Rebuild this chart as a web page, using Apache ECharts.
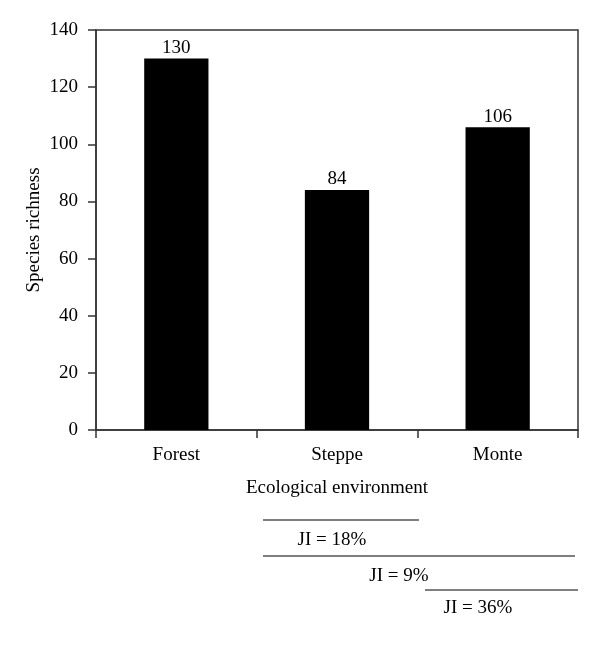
<!DOCTYPE html>
<html>
<head>
<meta charset="utf-8">
<script src="https://cdn.jsdelivr.net/npm/echarts@6/dist/echarts.min.js"></script>
<style>
  html, body { margin: 0; padding: 0; background: #fff; }
  #main { width: 600px; height: 654px; }
</style>
</head>
<body>
<div id="main"></div>
<script>
// data
const categories = ["Forest", "Steppe", "Monte"];
const richness = [130, 84, 106];
const jiLabels = ["JI = 18%", "JI = 9%", "JI = 36%"];

const FONT = "Liberation Serif";
const AXIS = "#333";
const FS = 19;

const myChart = echarts.init(document.getElementById("main"));

const option = {
  backgroundColor: "#fff",
  animation: false,
  textStyle: { fontFamily: FONT },
  grid: {
    left: 96,
    top: 30,
    right: 22,
    bottom: 224,
    show: true,
    borderColor: AXIS,
    borderWidth: 1.5,
  },
  xAxis: {
    type: "category",
    data: categories,
    name: "Ecological environment",
    nameLocation: "middle",
    nameGap: 49,
    nameTextStyle: { fontFamily: FONT, fontSize: FS, color: "#000" },
    axisLine: { lineStyle: { color: AXIS, width: 1.5 } },
    axisTick: { show: true, length: 8, lineStyle: { color: AXIS, width: 1.5 } },
    axisLabel: { fontFamily: FONT, fontSize: FS, color: "#000", margin: 16 },
  },
  yAxis: {
    type: "value",
    min: 0,
    max: 140,
    interval: 20,
    name: "Species richness",
    nameLocation: "middle",
    nameGap: 52,
    nameMoveOverlap: false,
    nameRotate: 90,
    nameTextStyle: { fontFamily: FONT, fontSize: FS, color: "#000" },
    splitLine: { show: false },
    axisLine: { show: true, lineStyle: { color: AXIS, width: 1.5 } },
    axisTick: { show: true, length: 8, lineStyle: { color: AXIS, width: 1.5 } },
    axisLabel: { fontFamily: FONT, fontSize: FS, color: "#000", margin: 18 },
  },
  series: [
    {
      type: "bar",
      data: richness,
      barWidth: "40%",
      itemStyle: { color: "#000" },
      label: {
        show: true,
        position: "top",
        distance: 1,
        fontFamily: FONT,
        fontSize: FS,
        color: "#000",
      },
    },
  ],
  // JI comparison brackets under the axis
  graphic: [
    { type: "line", shape: { x1: 263, y1: 520, x2: 419, y2: 520 }, style: { stroke: "#000", lineWidth: 1.2 } },
    { type: "text", x: 332, y: 540, style: { text: jiLabels[0], font: FS + "px " + FONT, fill: "#000", align: "center", verticalAlign: "middle" } },
    { type: "line", shape: { x1: 263, y1: 556, x2: 575, y2: 556 }, style: { stroke: "#000", lineWidth: 1.2 } },
    { type: "text", x: 399, y: 576, style: { text: jiLabels[1], font: FS + "px " + FONT, fill: "#000", align: "center", verticalAlign: "middle" } },
    { type: "line", shape: { x1: 425, y1: 590, x2: 578, y2: 590 }, style: { stroke: "#000", lineWidth: 1.2 } },
    { type: "text", x: 478, y: 608, style: { text: jiLabels[2], font: FS + "px " + FONT, fill: "#000", align: "center", verticalAlign: "middle" } },
  ],
};

option && myChart.setOption(option);
</script>
</body>
</html>
